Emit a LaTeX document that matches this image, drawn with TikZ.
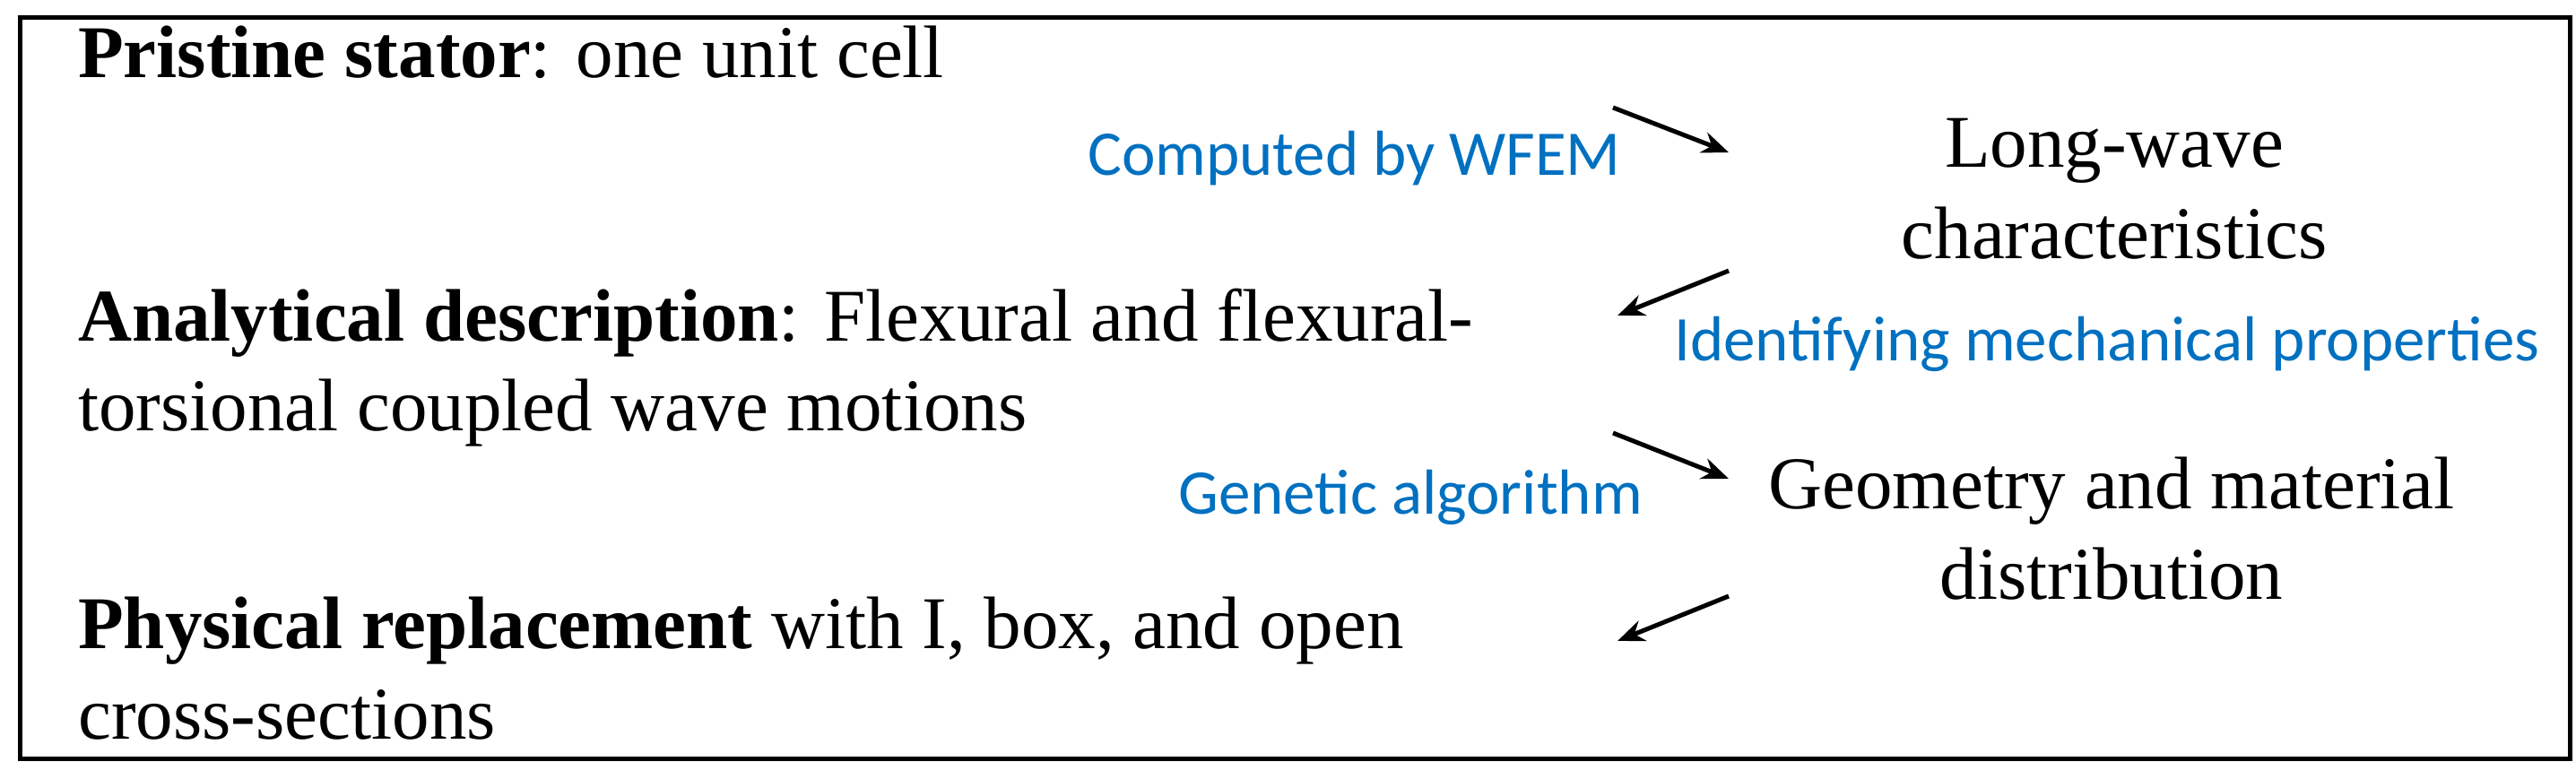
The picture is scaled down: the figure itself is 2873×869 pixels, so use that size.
\documentclass[tikz,border=0pt]{standalone}
\usetikzlibrary{arrows.meta}
\usepackage{fontspec}
\setmainfont{Liberation Serif}
\newfontfamily\bluefont{Carlito}
\definecolor{lblue}{RGB}{0,112,192}
\begin{document}
\begin{tikzpicture}[x=1pt,y=-1pt,
  txt/.style={inner sep=0pt,font=\fontsize{83}{90}\selectfont},
  lab/.style={inner sep=0pt,text=lblue,font=\bluefont\fontsize{71}{76}\selectfont},
  arr/.style={line width=5pt,-{Stealth[length=30pt,width=24pt]}}]
\useasboundingbox (0,0) rectangle (2873,869);
\draw[line width=5pt] (22,20) rectangle (2866,846);
\node[txt,anchor=base west] (p1) at (87,87) {\textbf{Pristine stator}: one unit cell};
\node[txt,anchor=base west] (a1) at (87,380) {\textbf{Analytical description}: Flexural and flexural-};
\node[txt,anchor=base west] (a2) at (87,480) {torsional coupled wave motions};
\node[txt,anchor=base west] (r1) at (87,723) {\textbf{Physical replacement} with I, box, and open};
\node[txt,anchor=base west] (r2) at (87,824) {cross-sections};
\node[txt,anchor=base] (l1) at (2358,187) {Long-wave};
\node[txt,anchor=base] (l2) at (2358,288) {characteristics};
\node[txt,anchor=base] (g1) at (2355,567) {Geometry and material};
\node[txt,anchor=base] (g2) at (2355,668) {distribution};
\node[lab,anchor=base east] (c) at (1808,196) {Computed by WFEM};
\node[lab,anchor=base west] (i) at (1867,402) {Identifying mechanical properties};
\node[lab,anchor=base east] (ga) at (1832,573) {Genetic algorithm};
\coordinate (s1) at (1799,120); \coordinate (e1) at (1928,170);
\coordinate (s2) at (1928,302); \coordinate (e2) at (1804,352);
\coordinate (s3) at (1799,483); \coordinate (e3) at (1928,534);
\coordinate (s4) at (1928,665); \coordinate (e4) at (1804,715);
\draw[arr] (s1) -- (e1);
\draw[arr] (s2) -- (e2);
\draw[arr] (s3) -- (e3);
\draw[arr] (s4) -- (e4);
\end{tikzpicture}
\end{document}
